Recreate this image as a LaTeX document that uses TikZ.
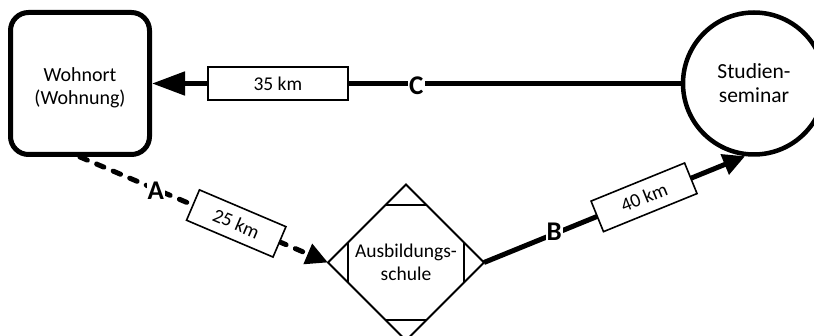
\documentclass[tikz,border=0pt]{standalone}
\usepackage{fontspec}
\setmainfont{Carlito}
\usetikzlibrary{arrows.meta,shapes.geometric,calc}
\begin{document}
\begin{tikzpicture}[x=1pt,y=1pt,
  conn/.style={line width=5pt},
  dashconn/.style={line width=5pt, line cap=round, dash pattern=on 8pt off 10pt},
  bigtip/.style={-{Triangle[length=33pt,width=23pt]}},
  smalltip/.style={-{Triangle[length=22pt,width=21pt]}},
  kmbox/.style={draw, solid, line cap=butt, line width=1.6pt, fill=white, inner sep=0pt, minimum height=33pt, font=\fontsize{19.5}{23}\selectfont},
  lbl/.style={fill=white, inner sep=1pt, font=\fontsize{27}{30}\selectfont\bfseries},
  txt/.style={align=center, inner sep=0pt},
  cutline/.style={line width=2pt}
]
\useasboundingbox (0,0) rectangle (814,335);
% Wohnort
\node[draw, line width=5pt, rounded corners=18pt, minimum width=139pt, minimum height=142pt, inner sep=0pt] (wohn) at (80,251.5) {};
\node[txt, font=\fontsize{20}{22.6}\selectfont] (wohntxt) at (80,247.5) {Wohnort\\(Wohnung)};
% Studienseminar
\node[draw, circle, line width=4.5pt, minimum size=142pt, inner sep=0pt, align=center, font=\fontsize{21.5}{24}\selectfont] (stud) at (754,251.5) {Studien-\\seminar};
% Ausbildungsschule
\node[draw, diamond, aspect=1, line width=2pt, minimum width=156pt, minimum height=156pt, inner sep=0pt, outer sep=0pt, align=center, font=\fontsize{19.5}{22.7}\selectfont] (schule) at (406,72.5) {Ausbildungs-\\schule};
\draw[cutline] ($(schule.north)!0.26!(schule.west)$) -- ($(schule.north)!0.26!(schule.east)$);
\draw[cutline] ($(schule.south)!0.26!(schule.west)$) -- ($(schule.south)!0.26!(schule.east)$);
\draw[cutline] ($(schule.west)!0.26!(schule.north)$) -- ($(schule.west)!0.26!(schule.south)$);
\draw[cutline] ($(schule.east)!0.26!(schule.north)$) -- ($(schule.east)!0.26!(schule.south)$);
% C
\draw[conn, bigtip] (stud.west) -- node[lbl, pos=0.5, yshift=-2.5pt] (lC) {C} node[kmbox, minimum width=140pt, pos=0.762] (b35) {35 km} (wohn.east);
% A
\draw[dashconn, smalltip] (wohn.south) -- node[lbl, pos=0.306, yshift=-1.5pt] (lA) {A} node[kmbox, sloped, minimum width=94pt, pos=0.63] (b25) {25 km} (schule.west);
% B
\draw[conn, smalltip] (schule.east) -- node[lbl, pos=0.269, yshift=2.5pt] (lB) {B} node[kmbox, sloped, minimum width=101pt, pos=0.613] (b40) {40 km} (stud.263);
\end{tikzpicture}
\end{document}
